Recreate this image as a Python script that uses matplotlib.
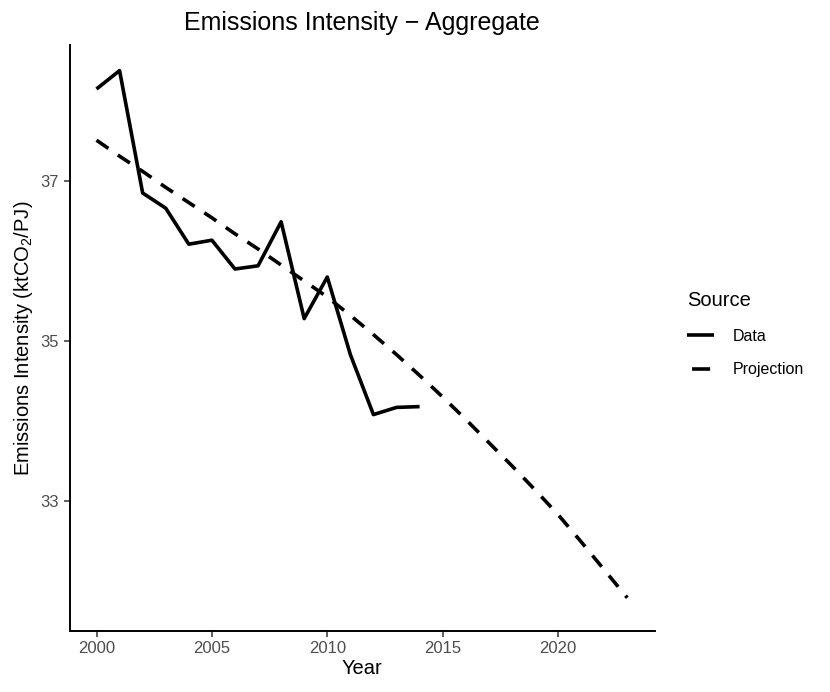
import matplotlib
matplotlib.use("Agg")
import matplotlib.pyplot as plt
from matplotlib.lines import Line2D

plt.rcParams['font.family'] = ['Liberation Sans', 'DejaVu Sans']
plt.rcParams['mathtext.fontset'] = 'custom'
plt.rcParams['mathtext.rm'] = 'Liberation Sans'
plt.rcParams['mathtext.it'] = 'Liberation Sans:italic'

data_years = list(range(2000, 2015))
data_values = [38.15, 38.38, 36.85, 36.66, 36.21, 36.26, 35.90, 35.94, 36.49,
               35.28, 35.80, 34.83, 34.08, 34.17, 34.18]

proj_years = list(range(2000, 2024))
proj_values = [37.51, 37.31, 37.12, 36.92, 36.73, 36.54, 36.34, 36.15, 35.95,
               35.75, 35.55, 35.32, 35.08, 34.83, 34.57, 34.30, 34.02, 33.73,
               33.44, 33.14, 32.83, 32.49, 32.14, 31.79]

x_ticks = [2000, 2005, 2010, 2015, 2020]
y_ticks = [33, 35, 37]

W, H = 830, 692
fig = plt.figure(figsize=(W / 100, H / 100), dpi=100)
ax = fig.add_axes([69.5 / W, (H - 631) / H, (655 - 69.5) / W, (631 - 45) / H])

lw = 2.6
dash = (0, (4, 3.2))
ax.plot(data_years, data_values, color='black', lw=lw, solid_capstyle='butt',
        solid_joinstyle='round', label='Data')
ax.plot(proj_years, proj_values, color='black', lw=lw, linestyle=dash,
        dash_capstyle='butt', label='Projection')

ax.set_xlim(2000 - 0.05 * 23 - 0.02, 2023 + 0.05 * 23 + 0.05)
ax.set_ylim(31.375, 38.7)
ax.set_xticks(x_ticks)
ax.set_yticks(y_ticks)
ax.tick_params(axis='both', colors='#333333', labelcolor='#4D4D4D', labelsize=12,
               length=4, width=1.1)
for s in ['top', 'right']:
    ax.spines[s].set_visible(False)
for s in ['left', 'bottom']:
    ax.spines[s].set_linewidth(1.4)
    ax.spines[s].set_color('black')

ax.set_xlabel('Year', fontsize=14.5, labelpad=2)
ax.set_ylabel('Emissions Intensity (ktCO$_2$/PJ)', fontsize=14.5, labelpad=4)
ax.set_title('Emissions Intensity \u2212 Aggregate', fontsize=18, pad=11)

handles = [Line2D([], [], color='black', lw=lw, solid_capstyle='butt'),
           Line2D([], [], color='black', lw=lw, linestyle=(0, (0.0001, 1.4, 5, 10)),
                  dash_capstyle='butt')]
leg = fig.legend(handles, ['Data', 'Projection'], title='Source',
                 loc='upper left', bbox_to_anchor=(673 / W, 1 - 277 / H),
                 frameon=False, fontsize=11.5, title_fontsize=14.5,
                 handlelength=1.65, handletextpad=1.2, labelspacing=1.15)
leg._legend_box.align = 'left'

fig.savefig('out.png', dpi=100, facecolor='white')
